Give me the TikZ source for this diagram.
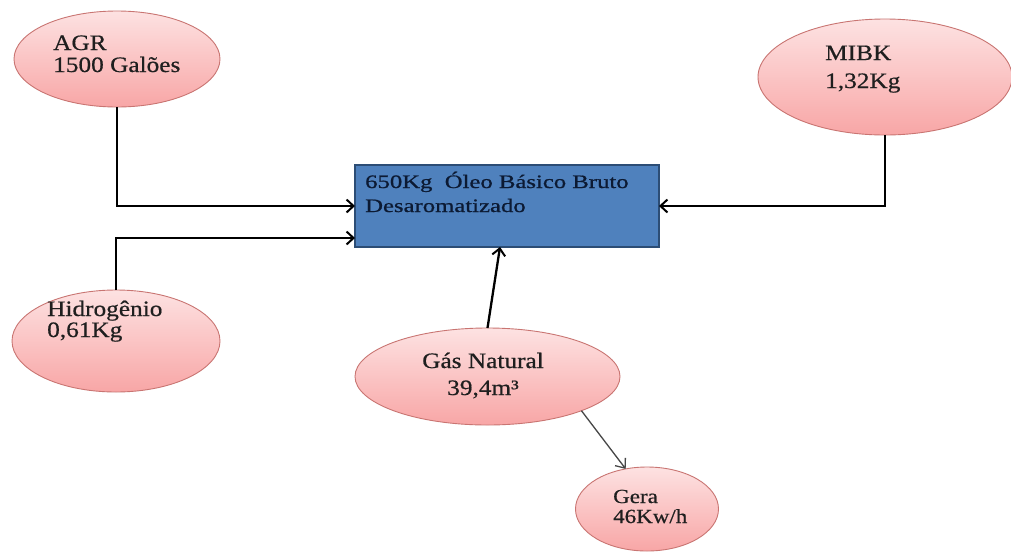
\documentclass[tikz,border=0pt]{standalone}
\usepackage{fontspec}
\setmainfont{Liberation Serif}
\newfontfamily\bubblefont{Liberation Serif}[FakeStretch=1.15,FakeBold=0.6]
\newfontfamily\boxfont{Liberation Serif}[FakeStretch=1.3,FakeBold=0.8]
\usetikzlibrary{shapes.geometric,arrows.meta}

\definecolor{bubbletop}{HTML}{FDE2E2}
\definecolor{bubblebot}{HTML}{F8A6A6}
\definecolor{bubbleline}{HTML}{C97572}
\definecolor{boxfill}{HTML}{4F81BD}
\definecolor{boxline}{HTML}{2C4D75}
\definecolor{boxtext}{HTML}{0C1A33}

\tikzset{
  bubble/.style={ellipse, draw=bubbleline, line width=0.9pt,
    top color=bubbletop, bottom color=bubblebot, inner sep=0pt, outer sep=0pt},
  mainbox/.style={rectangle, draw=boxline, line width=1.3pt, fill=boxfill,
    inner sep=0pt, outer sep=0pt},
  label/.style={inner sep=0pt, align=left, anchor=base west, text=black!88},
  flow/.style={draw=black, line width=2.3pt,
    -{Straight Barb[length=7pt,width=13pt,line width=2pt]}},
  gen/.style={draw=black!72, line width=1.3pt,
    -{Straight Barb[length=8pt,width=13pt,line width=1.3pt]}}
}

\begin{document}
\begin{tikzpicture}[x=1pt,y=-1pt]
  \useasboundingbox[fill=white] (0,0) rectangle (1011,552);

  % central product box
  \node[mainbox, minimum width=304pt, minimum height=82pt] (box) at (507,206) {};
  \node[label, text=boxtext, font={\boxfont\fontsize{19}{24}\selectfont}] (boxlbl) at (365,212)
    {650Kg\ \ Óleo Básico Bruto\\Desaromatizado};

  % inputs and output
  \node[bubble, minimum width=206pt, minimum height=96pt] (agr) at (117,59) {};
  \node[label, font={\bubblefont\fontsize{22}{22}\selectfont}] (agrlbl) at (53,72)
    {AGR\\1500 Galões};

  \node[bubble, minimum width=208pt, minimum height=102pt] (hyd) at (116,341) {};
  \node[label, font={\bubblefont\fontsize{22}{21}\selectfont}] (hydlbl) at (47,337)
    {Hidrogênio\\0,61Kg};

  \node[bubble, minimum width=254pt, minimum height=116pt] (mibk) at (885,77) {};
  \node[label, font={\bubblefont\fontsize{22}{28}\selectfont}] (mibklbl) at (825,88)
    {MIBK\\1,32Kg};

  \node[bubble, minimum width=265pt, minimum height=97pt] (gas) at (487.5,376.5) {};
  \node[label, align=center, anchor=base, font={\bubblefont\fontsize{22}{27}\selectfont}] (gaslbl) at (483,395)
    {Gás Natural\\39,4m³};

  \node[bubble, minimum width=143pt, minimum height=84pt] (gera) at (647,509) {};
  \node[label, font={\bubblefont\fontsize{20}{20}\selectfont}] (geralbl) at (613,523)
    {Gera\\46Kw/h};

  % connectors
  \draw[flow] (agr.south) |- (box.west);
  \draw[flow] (hyd.north) |- ([yshift=-32pt]box.west);
  \draw[flow] (mibk.south) |- (box.east);
  \draw[flow] (gas.north) -- ([xshift=-7pt]box.south);
  \draw[gen] (gas.-20) -- (gera.118);
\end{tikzpicture}
\end{document}
